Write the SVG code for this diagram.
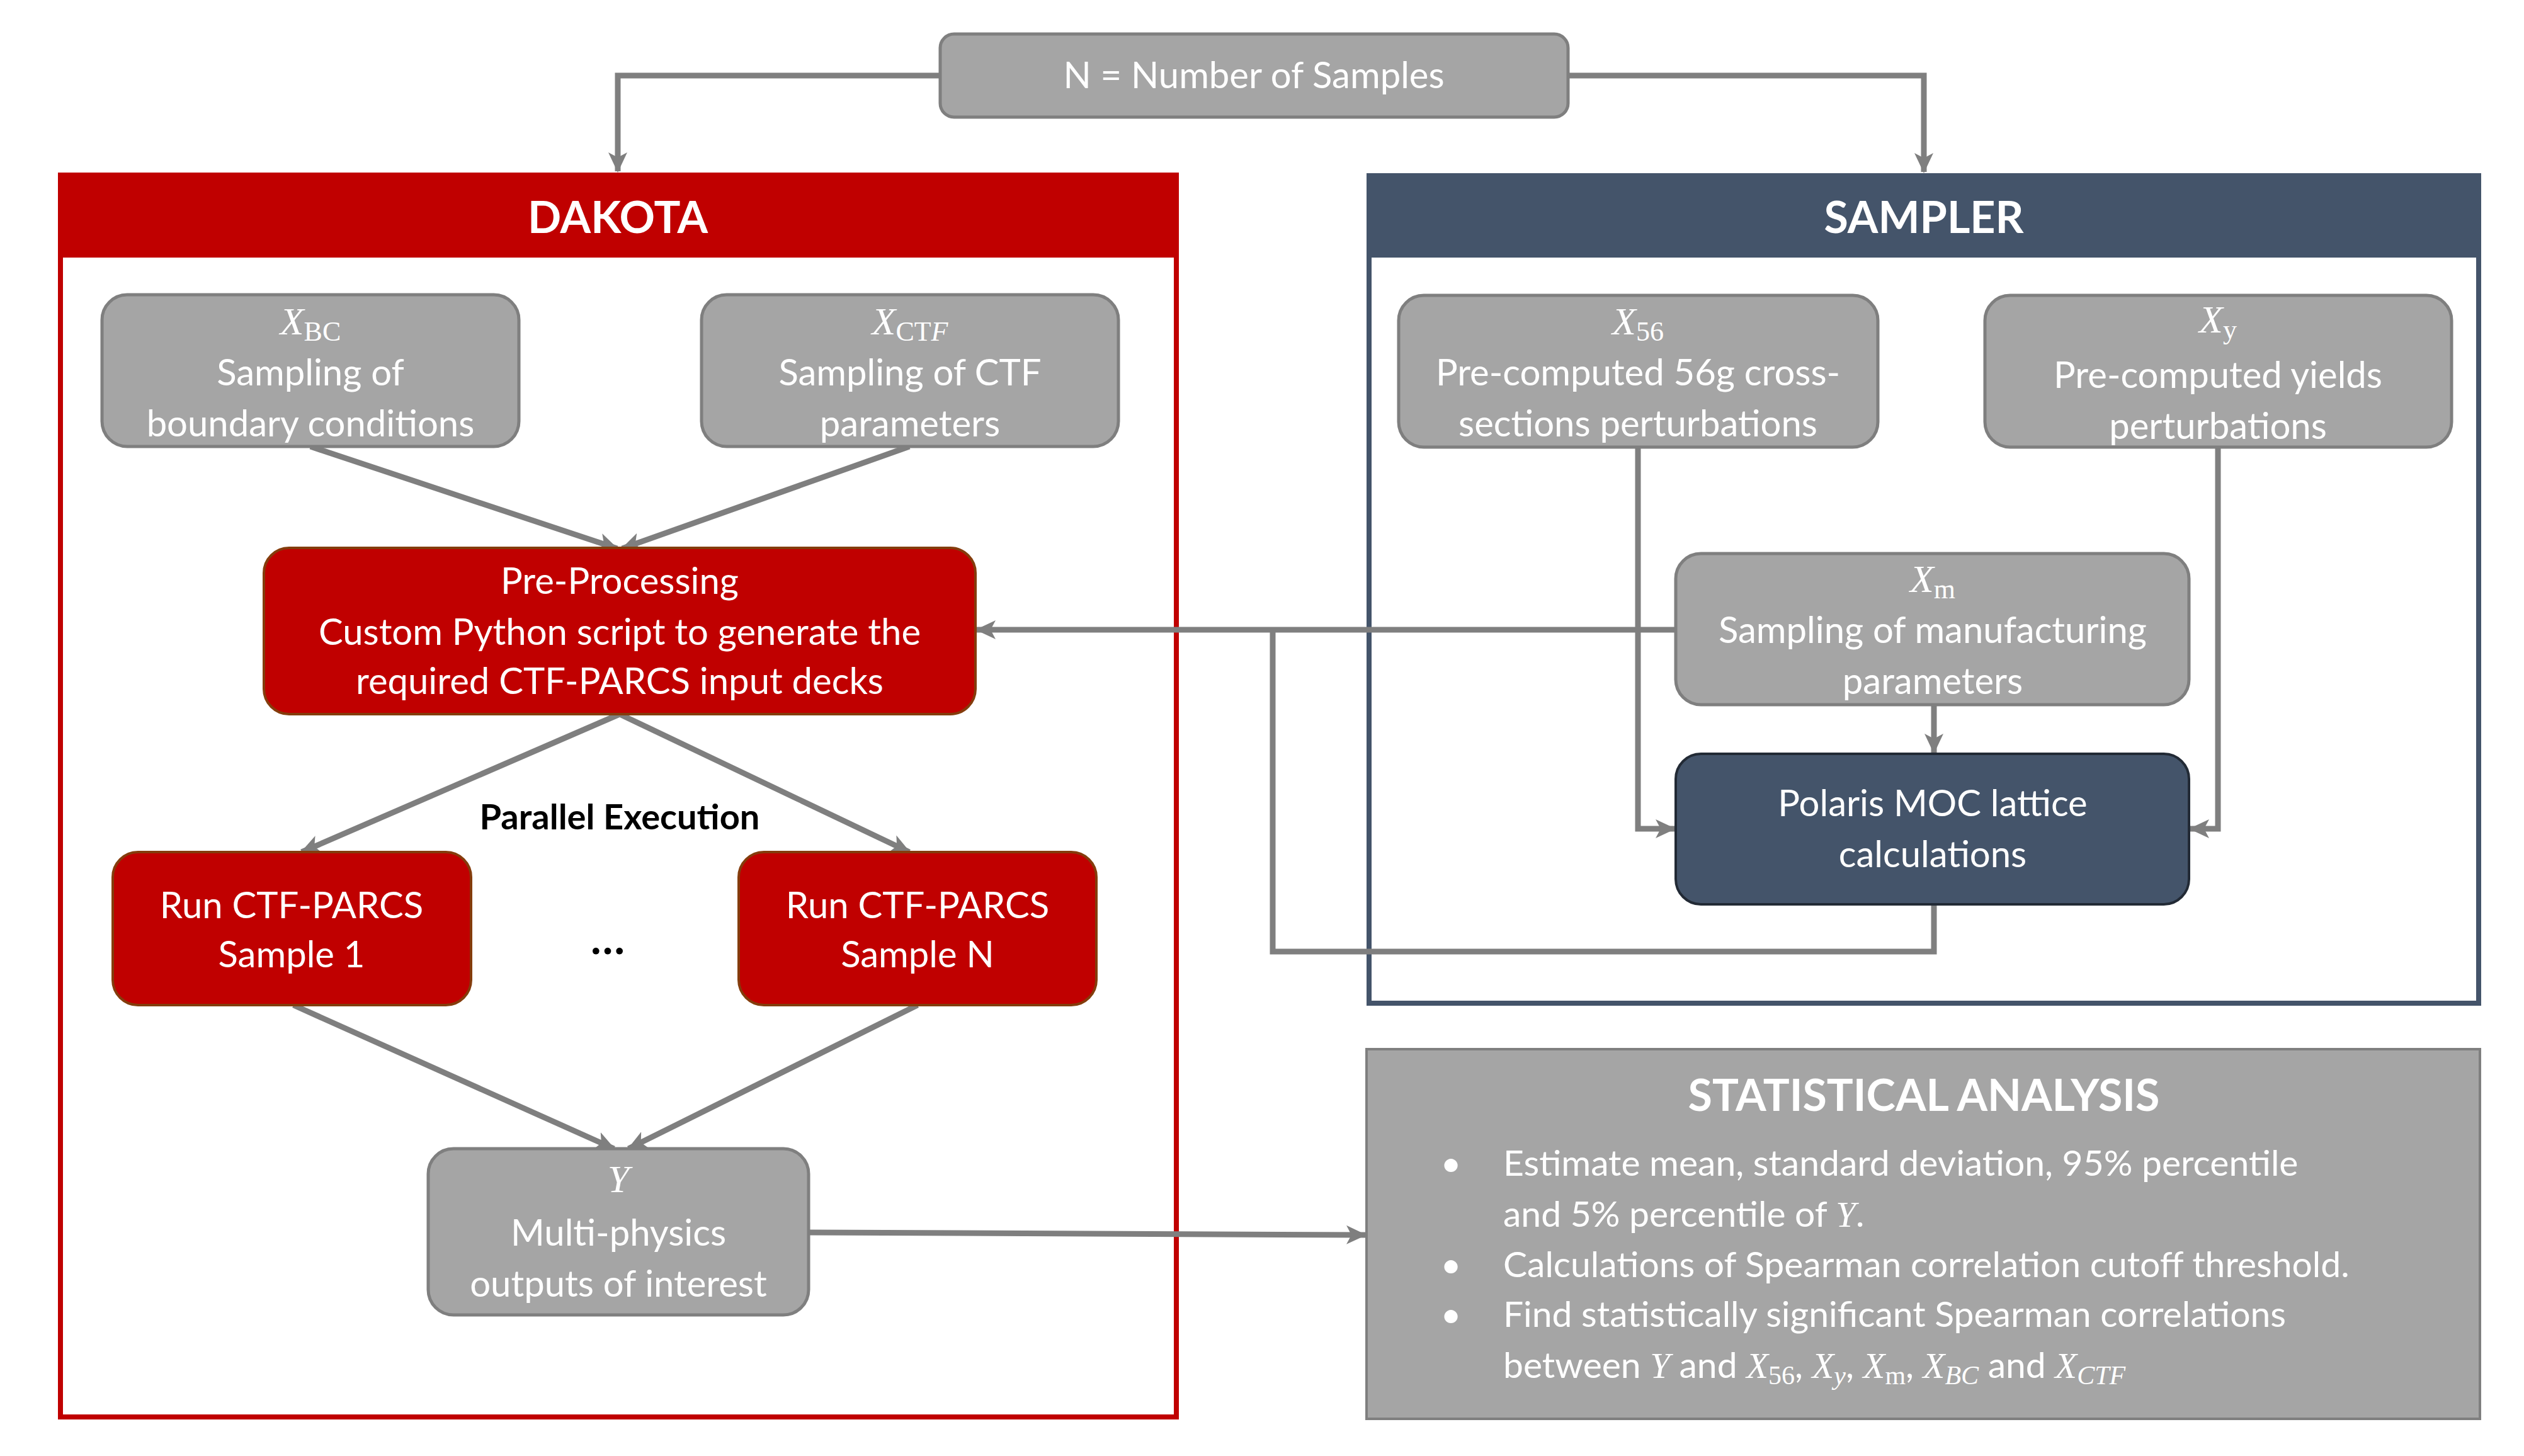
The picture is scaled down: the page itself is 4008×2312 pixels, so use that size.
<svg xmlns="http://www.w3.org/2000/svg" width="4008" height="2312" viewBox="0 0 4008 2312">
<style>
.t{font-family:Lato,"Open Sans",sans-serif;font-size:58px;fill:#fff;text-anchor:middle}
.m{font-family:"Liberation Serif",serif;font-size:62px;fill:#fff;text-anchor:middle}
.mi{font-style:italic}
.h{font-family:Lato,"Open Sans",sans-serif;font-size:70px;font-weight:bold;fill:#fff;text-anchor:middle}
.g{fill:#A5A5A5;stroke:#7F7F7F;stroke-width:5}
.r{fill:#C00000;stroke:#843C0C;stroke-width:4}
.c{fill:none;stroke:#7F7F7F;stroke-width:9}
.s{font-family:Lato,"Open Sans",sans-serif;font-size:57px;fill:#fff}
</style>
<defs>
<marker id="a" markerUnits="userSpaceOnUse" markerWidth="34" markerHeight="34" refX="30" refY="17" orient="auto">
<path d="M0,2 L32,17 L0,32 L8,17 Z" fill="#7F7F7F"/>
</marker>
</defs>
<g id="n-samples"><rect class="g" x="1493" y="54" width="997" height="132" rx="22"/><text class="t" x="1991" y="140">N = Number of Samples</text></g>
<g id="dakota"><rect x="96" y="278" width="1772" height="1972" fill="#fff" stroke="#C00000" stroke-width="8"/><rect x="92" y="274" width="1780" height="135" fill="#C00000"/><text class="h" x="981" y="370">DAKOTA</text></g>
<g id="sampler"><rect x="2174" y="279" width="1762" height="1314" fill="#fff" stroke="#44546A" stroke-width="8"/><rect x="2170" y="275" width="1770" height="134" fill="#44546A"/><text class="h" x="3055" y="370">SAMPLER</text></g>
<g id="connectors">
<path class="c" d="M1493,120 H981 V272" marker-end="url(#a)"/>
<path class="c" d="M2490,120 H3055 V273" marker-end="url(#a)"/>
<path class="c" d="M493,709 L980,871" marker-end="url(#a)"/>
<path class="c" d="M1444,709 L988,871" marker-end="url(#a)"/>
<path class="c" d="M2661,1000 H1551" marker-end="url(#a)"/>
<path class="c" d="M3071,1436 V1511 H2021 V1000"/>
<path class="c" d="M2601,710 V1316 H2659" marker-end="url(#a)"/>
<path class="c" d="M3522,710 V1316 H3478" marker-end="url(#a)"/>
<path class="c" d="M3071,1119 V1195" marker-end="url(#a)"/>
<path class="c" d="M984,1134 L479,1353" marker-end="url(#a)"/>
<path class="c" d="M984,1134 L1444,1353" marker-end="url(#a)"/>
<path class="c" d="M466,1596 L975,1824" marker-end="url(#a)"/>
<path class="c" d="M1457,1596 L998,1824" marker-end="url(#a)"/>
<path class="c" d="M1284,1957 L2168,1961" marker-end="url(#a)"/>
</g>
<g id="xbc"><rect class="g" x="162" y="468" width="662" height="241" rx="40"/><text class="m" x="493" y="531"><tspan class="mi">X</tspan><tspan font-size="44" dy="10">BC</tspan></text><text class="t" x="493" y="612">Sampling of</text><text class="t" x="493" y="693">boundary conditions</text></g>
<g id="xctf"><rect class="g" x="1114" y="468" width="662" height="241" rx="40"/><text class="m" x="1445" y="531"><tspan class="mi">X</tspan><tspan font-size="44" dy="10">CT</tspan><tspan font-size="44" class="mi">F</tspan></text><text class="t" x="1445" y="612">Sampling of  CTF</text><text class="t" x="1445" y="693">parameters</text></g>
<g id="preproc"><rect class="r" x="419" y="870" width="1130" height="264" rx="40"/><text class="t" x="984" y="943">Pre-Processing</text><text class="t" x="984" y="1024">Custom Python script to generate the</text><text class="t" x="984" y="1102">required CTF-PARCS input decks</text></g>
<text id="parallel" x="984" y="1317" font-family="Lato,'Open Sans',sans-serif" font-size="56" font-weight="bold" fill="#000" text-anchor="middle">Parallel Execution</text>
<g id="run1"><rect class="r" x="179" y="1353" width="569" height="243" rx="40"/><text class="t" x="463" y="1458">Run CTF-PARCS</text><text class="t" x="463" y="1536">Sample 1</text></g>
<text id="dots" x="965" y="1515" font-family="Lato,sans-serif" font-size="70" font-weight="bold" fill="#000" text-anchor="middle">…</text>
<g id="runN"><rect class="r" x="1173" y="1353" width="568" height="243" rx="40"/><text class="t" x="1457" y="1458">Run CTF-PARCS</text><text class="t" x="1457" y="1536">Sample N</text></g>
<g id="y"><rect class="g" x="680" y="1824" width="604" height="264" rx="40"/><text class="m mi" x="982" y="1893">Y</text><text class="t" x="982" y="1978">Multi-physics</text><text class="t" x="982" y="2059">outputs of interest</text></g>
<g id="x56"><rect class="g" x="2221" y="469" width="761" height="241" rx="40"/><text class="m" x="2601" y="531"><tspan class="mi">X</tspan><tspan font-size="44" dy="10">56</tspan></text><text class="t" x="2601" y="612">Pre-computed 56g cross-</text><text class="t" x="2601" y="693">sections perturbations</text></g>
<g id="xy"><rect class="g" x="3152" y="469" width="741" height="241" rx="40"/><text class="m" x="3522" y="528"><tspan class="mi">X</tspan><tspan font-size="44" dy="10">y</tspan></text><text class="t" x="3522" y="616">Pre-computed yields</text><text class="t" x="3522" y="697">perturbations</text></g>
<g id="xm"><rect class="g" x="2661" y="879" width="815" height="240" rx="40"/><text class="m" x="3069" y="940"><tspan class="mi">X</tspan><tspan font-size="44" dy="10">m</tspan></text><text class="t" x="3069" y="1021">Sampling of manufacturing</text><text class="t" x="3069" y="1102">parameters</text></g>
<g id="polaris"><rect x="2661" y="1197" width="815" height="239" rx="40" fill="#44546A" stroke="#222A35" stroke-width="4"/><text class="t" x="3069" y="1296">Polaris MOC lattice</text><text class="t" x="3069" y="1377">calculations</text></g>
<g id="stats"><rect x="2170" y="1666" width="1768" height="587" fill="#A5A5A5" stroke="#7F7F7F" stroke-width="4"/>
<text class="h" x="3055" y="1764">STATISTICAL ANALYSIS</text>
<text class="s" x="2304" y="1867" text-anchor="middle">•</text><text class="s" x="2304" y="2028" text-anchor="middle">•</text><text class="s" x="2304" y="2107" text-anchor="middle">•</text>
<text class="s" x="2387" y="1867">Estimate mean, standard deviation, 95% percentile</text>
<text class="s" x="2387" y="1948">and 5% percentile of <tspan font-family="Liberation Serif,serif" font-style="italic">Y</tspan>.</text>
<text class="s" x="2387" y="2028">Calculations of Spearman correlation cutoff threshold.</text>
<text class="s" x="2387" y="2107">Find statistically significant Spearman correlations</text>
<text class="s" x="2387" y="2188">between <tspan font-family="Liberation Serif,serif" font-style="italic">Y</tspan> and <tspan font-family="Liberation Serif,serif" font-style="italic">X</tspan><tspan font-family="Liberation Serif,serif" font-size="42" dy="10">56</tspan><tspan dy="-10">, </tspan><tspan font-family="Liberation Serif,serif" font-style="italic">X</tspan><tspan font-family="Liberation Serif,serif" font-style="italic" font-size="42" dy="10">y</tspan><tspan dy="-10">, </tspan><tspan font-family="Liberation Serif,serif" font-style="italic">X</tspan><tspan font-family="Liberation Serif,serif" font-size="42" dy="10">m</tspan><tspan dy="-10">, </tspan><tspan font-family="Liberation Serif,serif" font-style="italic">X</tspan><tspan font-family="Liberation Serif,serif" font-style="italic" font-size="42" dy="10">BC</tspan><tspan dy="-10"> and </tspan><tspan font-family="Liberation Serif,serif" font-style="italic">X</tspan><tspan font-family="Liberation Serif,serif" font-style="italic" font-size="42" dy="10">CTF</tspan></text>
</g>
</svg>
